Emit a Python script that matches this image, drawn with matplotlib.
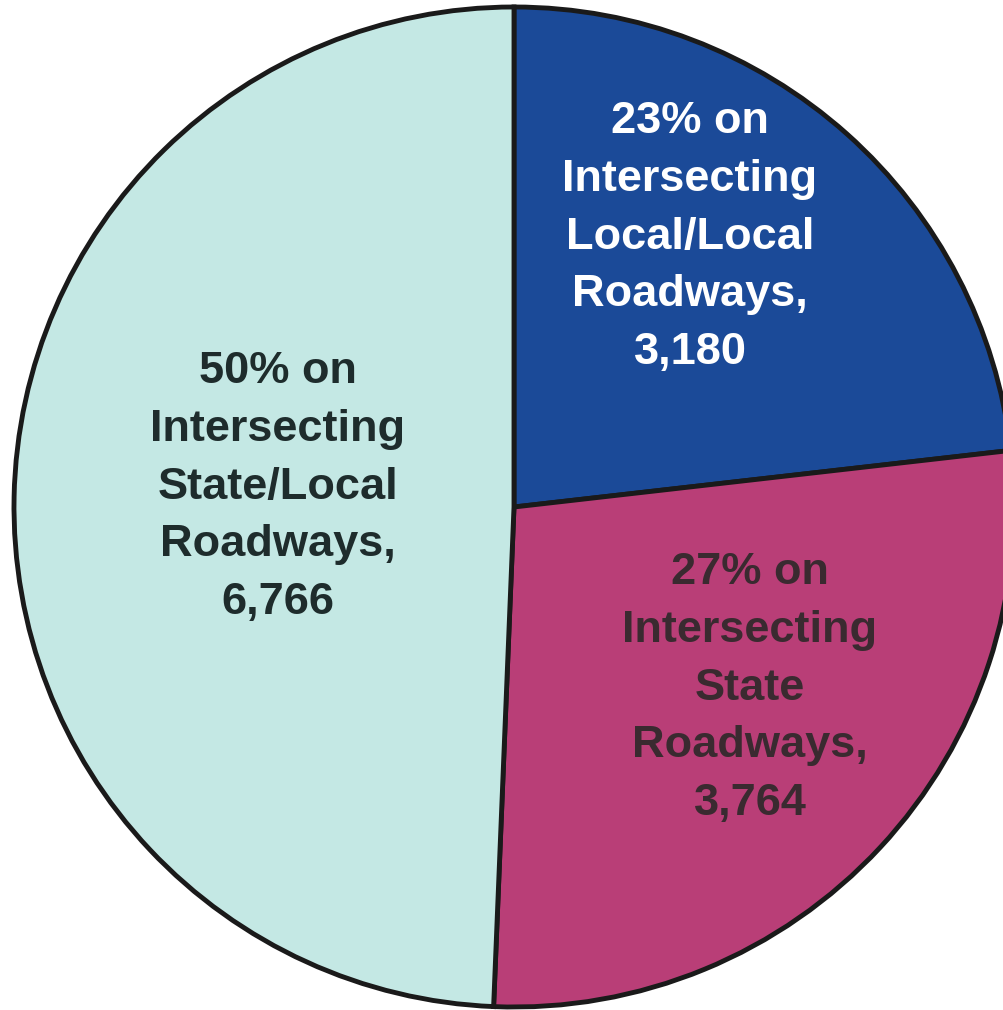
import matplotlib.pyplot as plt

categorias = ["Intersecting Local/Local Roadways",
              "Intersecting State Roadways",
              "Intersecting State/Local Roadways"]
choques = [3180, 3764, 6766]
porcentajes = [23, 27, 50]
etiquetas = ["23% on\nIntersecting\nLocal/Local\nRoadways,\n3,180",
             "27% on\nIntersecting\nState\nRoadways,\n3,764",
             "50% on\nIntersecting\nState/Local\nRoadways,\n6,766"]
colores = ["#1B4A98", "#B93E77", "#C4E8E4"]
color_texto = ["white", "#3A2A30", "#1E2C2C"]
pos_texto = [(0.352, 0.54), (0.472, -0.362), (-0.472, 0.04)]

fig = plt.figure(figsize=(10.04, 10.10), dpi=100)
ax = fig.add_axes([0, 0, 1, 1])

ax.pie(choques, colors=colores, startangle=90, counterclock=False,
       wedgeprops=dict(edgecolor="#1a1a1a", linewidth=3.5))

for txt, (x, y), c in zip(etiquetas, pos_texto, color_texto):
    ax.text(x, y, txt, ha="center", va="center", color=c,
            fontsize=32.5, fontweight="bold", family="Liberation Sans",
            linespacing=1.52)

ax.set_xlim(-1.028, 0.98)
ax.set_ylim(-1.006, 1.014)
ax.set_aspect("auto")
ax.axis("off")

fig.savefig("out.png", dpi=100, facecolor="white")
